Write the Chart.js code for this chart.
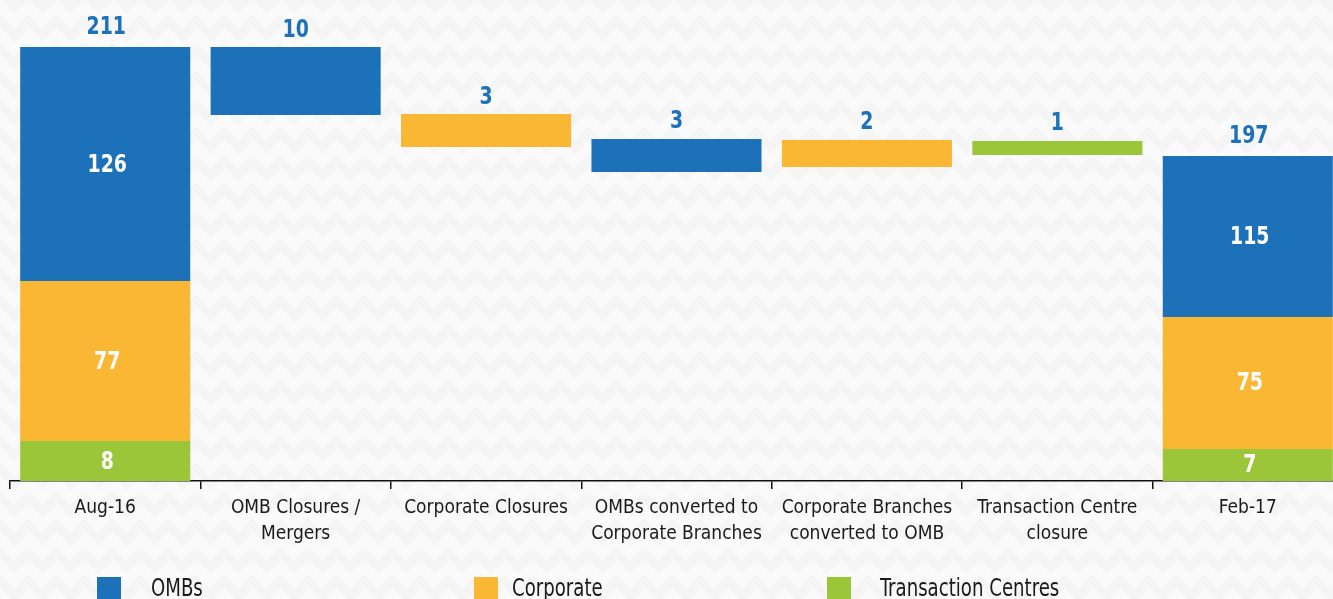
<!DOCTYPE html>
<html>
<head>
<meta charset="utf-8">
<script src="https://cdn.jsdelivr.net/npm/chart.js@4.4.1/dist/chart.umd.min.js"></script>
<style>
  html, body { margin: 0; padding: 0; overflow: hidden; }
  body {
    background:
      linear-gradient(135deg, #f5f5f5 25%, transparent 25%) -14px 0,
      linear-gradient(225deg, #f5f5f5 25%, transparent 25%) -14px 0,
      linear-gradient(315deg, #f5f5f5 25%, transparent 25%),
      linear-gradient(45deg, #f5f5f5 25%, transparent 25%);
    background-size: 28px 28px;
    background-color: #fafafa;
  }
  #wrap { position: relative; width: 1345px; height: 599px; }
</style>
</head>
<body>
<div id="wrap"><canvas id="c"></canvas></div>
<script>
// ---- Data ----
const categories = [
  'Aug-16',
  ['OMB Closures /', 'Mergers'],
  'Corporate Closures',
  ['OMBs converted to', 'Corporate Branches'],
  ['Corporate Branches', 'converted to OMB'],
  ['Transaction Centre', 'closure'],
  'Feb-17'
];
const seriesNames = ['OMBs', 'Corporate', 'Transaction Centres'];

// printed values (labels)
const ombValues       = [126, 10, null, 3, null, null, 115];
const corporateValues = [77, null, 3, null, 2, null, 75];
const tcValues        = [8, null, null, null, null, 1, 7];
const totalValues     = [211, null, null, null, null, null, 197];

// extents of each bar as drawn in the picture, on its (not-to-scale) hidden axis
const ombDrawn       = [[97.2, 211], [178, 211], null, [150.2, 166.3], null, null, [79.7, 158]];
const corporateDrawn = [[19.4, 97.2], null, [162.4, 178.4], null, [152.7, 165.8], null, [15.6, 79.7]];
const tcDrawn        = [[0, 19.4], null, null, null, null, [158.5, 165.3], [0, 15.6]];

const colors = ['#1c71b8', '#f9b733', '#9bc63a'];
const labelBlue = '#1c71b8';
const FONT = "'Liberation Sans Narrow', 'DejaVu Sans Condensed', Arial, sans-serif";

const printed = [ombValues, corporateValues, tcValues];
const drawn = [ombDrawn, corporateDrawn, tcDrawn];

const datasets = seriesNames.map((name, i) => ({
  label: name,
  data: drawn[i],
  backgroundColor: colors[i],
  borderWidth: 0,
  barPercentage: 1,
  categoryPercentage: 0.893
}));

function squeezedText(ctx, text, x, y, sx) {
  ctx.save();
  ctx.translate(x, y);
  ctx.scale(sx, 1);
  ctx.fillText(text, 0, 0);
  ctx.restore();
}

const labelPlugin = {
  id: 'valueLabels',
  afterDatasetsDraw(chart) {
    const ctx = chart.ctx;
    ctx.save();
    ctx.textAlign = 'center';
    ctx.textBaseline = 'middle';
    ctx.font = 'bold 25px ' + FONT;
    const sx = 0.84;
    categories.forEach((cat, idx) => {
      const segs = [];
      chart.data.datasets.forEach((ds, di) => {
        if (ds.data[idx] != null) {
          segs.push({ el: chart.getDatasetMeta(di).data[idx], value: printed[di][idx] });
        }
      });
      if (segs.length > 1) {
        let topY = Infinity, cx = 0;
        segs.forEach(s => {
          const el = s.el;
          ctx.fillStyle = '#ffffff';
          squeezedText(ctx, String(s.value), el.x + 2, (el.y + el.base) / 2 + 1, sx);
          topY = Math.min(topY, el.y, el.base);
          cx = el.x;
        });
        if (totalValues[idx] != null) {
          ctx.fillStyle = labelBlue;
          squeezedText(ctx, String(totalValues[idx]), cx + 1, topY - 20, sx);
        }
      } else if (segs.length === 1) {
        const el = segs[0].el;
        ctx.fillStyle = labelBlue;
        squeezedText(ctx, String(segs[0].value), el.x, Math.min(el.y, el.base) - 17, sx);
      }
    });
    ctx.restore();
  }
};

const legendPlugin = {
  id: 'bottomLegend',
  afterDraw(chart) {
    const ctx = chart.ctx;
    const squareX = [97, 474, 827];
    const textX = [151, 512, 880];
    ctx.save();
    ctx.font = '24px ' + FONT;
    ctx.textAlign = 'left';
    ctx.textBaseline = 'alphabetic';
    chart.data.datasets.forEach((ds, i) => {
      ctx.fillStyle = ds.backgroundColor;
      ctx.fillRect(squareX[i], 577, 24, 24);
      ctx.fillStyle = '#1a1a1a';
      squeezedText(ctx, ds.label, textX[i], 596, 0.84);
    });
    ctx.restore();
  }
};

new Chart(document.getElementById('c'), {
  type: 'bar',
  data: { labels: categories, datasets },
  plugins: [labelPlugin, legendPlugin],
  options: {
    responsive: true,
    maintainAspectRatio: false,
    animation: false,
    layout: { padding: { top: 47, left: 10, right: 2, bottom: 0 } },
    plugins: { legend: { display: false }, tooltip: { enabled: false } },
    scales: {
      x: {
        stacked: true,
        border: { display: true, color: '#111', width: 1.5 },
        grid: { display: true, drawOnChartArea: false, drawTicks: true, tickLength: 8, color: '#111', lineWidth: 1.5, offset: true },
        ticks: {
          color: '#1a1a1a',
          font: { family: FONT, size: 19, lineHeight: 1.37 },
          padding: 6,
          maxRotation: 0,
          autoSkip: false
        },
        afterFit(scale) { scale.height = 118; }
      },
      y: {
        display: false,
        stacked: false,
        min: 0,
        max: 211
      }
    }
  }
});
</script>
</body>
</html>
